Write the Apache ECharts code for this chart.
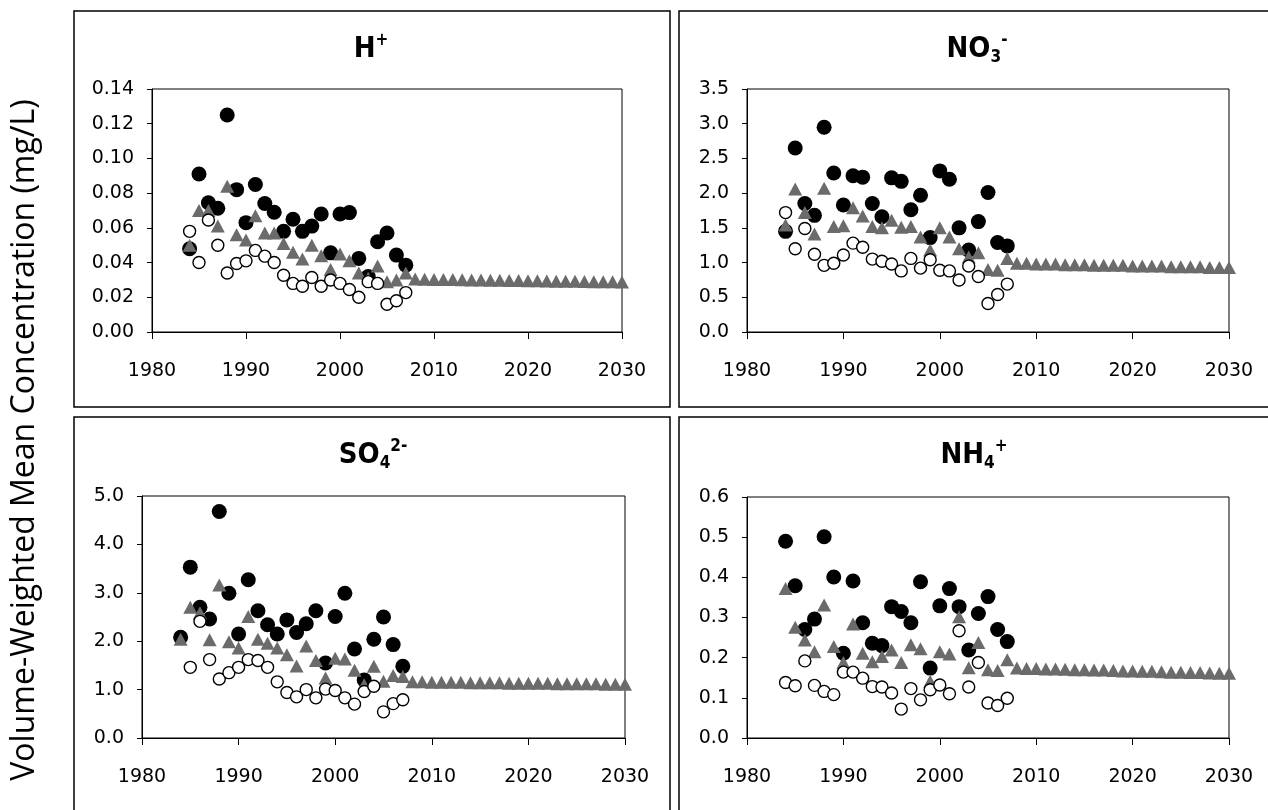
<!DOCTYPE html>
<html>
<head>
<meta charset="utf-8">
<script src="https://cdn.jsdelivr.net/npm/echarts@6/dist/echarts.min.js"></script>
<style>
  html, body { margin: 0; padding: 0; background: #fff; }
  #chart { width: 1268px; height: 810px; }
</style>
</head>
<body>
<div id="chart"></div>
<script>
// years of measurements and of the projection
const obsYears = [1984, 1985, 1986, 1987, 1988, 1989, 1990, 1991, 1992, 1993, 1994, 1995,
  1996, 1997, 1998, 1999, 2000, 2001, 2002, 2003, 2004, 2005, 2006, 2007];
const projYears = [2008, 2009, 2010, 2011, 2012, 2013, 2014, 2015, 2016, 2017, 2018, 2019,
  2020, 2021, 2022, 2023, 2024, 2025, 2026, 2027, 2028, 2029, 2030];

// H+
const hBlack = [0.048, 0.091, 0.0745, 0.0713, 0.125, 0.082, 0.063, 0.085, 0.074, 0.069, 0.058, 0.065,
  0.058, 0.061, 0.068, 0.0456, 0.068, 0.0688, 0.0424, 0.032, 0.052, 0.057, 0.0443, 0.0385];
const hTri = [0.050, 0.070, 0.070, 0.061, 0.084, 0.056, 0.053, 0.067, 0.057, 0.057, 0.051, 0.046,
  0.042, 0.050, 0.044, 0.036, 0.045, 0.041, 0.034, 0.031, 0.038, 0.029, 0.030, 0.034];
const hOpen = [0.058, 0.040, 0.0645, 0.050, 0.034, 0.0395, 0.041, 0.047, 0.0437, 0.040, 0.0327, 0.028,
  0.0264, 0.0314, 0.0264, 0.030, 0.028, 0.0245, 0.020, 0.029, 0.028, 0.016, 0.018, 0.0227];
const hProj = [0.0305, 0.0304, 0.0303, 0.0302, 0.0302, 0.0301, 0.0300, 0.0299, 0.0298, 0.0298, 0.0297, 0.0296,
  0.0295, 0.0295, 0.0294, 0.0293, 0.0292, 0.0292, 0.0291, 0.0290, 0.0289, 0.0289, 0.0288];

// NO3-
const nBlack = [1.45, 2.65, 1.85, 1.68, 2.95, 2.29, 1.83, 2.25, 2.23, 1.85, 1.66, 2.22,
  2.17, 1.76, 1.97, 1.36, 2.32, 2.20, 1.50, 1.18, 1.59, 2.01, 1.29, 1.24];
const nTri = [1.54, 2.06, 1.72, 1.41, 2.07, 1.52, 1.53, 1.79, 1.67, 1.52, 1.50, 1.61,
  1.51, 1.52, 1.37, 1.18, 1.50, 1.37, 1.20, 1.08, 1.14, 0.90, 0.89, 1.06];
const nOpen = [1.72, 1.20, 1.49, 1.12, 0.96, 0.99, 1.11, 1.28, 1.22, 1.05, 1.02, 0.98,
  0.88, 1.06, 0.92, 1.04, 0.89, 0.88, 0.75, 0.95, 0.80, 0.41, 0.54, 0.69];
const nProj = [0.99, 0.99, 0.98, 0.98, 0.98, 0.97, 0.97, 0.97, 0.96, 0.96, 0.96, 0.96,
  0.95, 0.95, 0.95, 0.95, 0.94, 0.94, 0.94, 0.94, 0.93, 0.93, 0.93];

// SO4 2-
const sBlack = [2.08, 3.53, 2.70, 2.46, 4.68, 2.99, 2.15, 3.27, 2.63, 2.34, 2.15, 2.44,
  2.18, 2.36, 2.63, 1.55, 2.51, 2.99, 1.84, 1.20, 2.04, 2.50, 1.93, 1.48];
const sTri = [2.04, 2.70, 2.59, 2.03, 3.16, 1.99, 1.86, 2.51, 2.04, 1.96, 1.86, 1.72,
  1.49, 1.90, 1.60, 1.24, 1.65, 1.63, 1.40, 1.10, 1.48, 1.17, 1.29, 1.27];
const sOpen = [null, 1.46, 2.41, 1.62, 1.22, 1.35, 1.46, 1.62, 1.60, 1.46, 1.16, 0.94,
  0.85, 1.00, 0.83, 1.01, 0.98, 0.83, 0.70, 0.96, 1.07, 0.54, 0.71, 0.79];
const sProj = [1.16, 1.16, 1.15, 1.15, 1.15, 1.15, 1.14, 1.14, 1.14, 1.14, 1.13, 1.13,
  1.13, 1.13, 1.13, 1.12, 1.12, 1.12, 1.12, 1.12, 1.11, 1.11, 1.11];

// NH4+
const aBlack = [0.490, 0.379, 0.270, 0.296, 0.501, 0.401, 0.211, 0.391, 0.287, 0.236, 0.230, 0.327,
  0.315, 0.287, 0.389, 0.174, 0.329, 0.372, 0.327, 0.219, 0.310, 0.352, 0.270, 0.240];
const aTri = [0.372, 0.276, 0.244, 0.215, 0.331, 0.228, 0.188, 0.284, 0.211, 0.190, 0.203, 0.219,
  0.188, 0.232, 0.222, 0.141, 0.215, 0.209, 0.302, 0.175, 0.238, 0.170, 0.168, 0.195];
const aOpen = [0.138, 0.130, 0.192, 0.131, 0.116, 0.108, 0.164, 0.164, 0.149, 0.128, 0.127, 0.112,
  0.072, 0.123, 0.095, 0.120, 0.132, 0.110, 0.267, 0.127, 0.188, 0.087, 0.081, 0.099];
const aProj = [0.174, 0.173, 0.173, 0.172, 0.172, 0.171, 0.170, 0.170, 0.169, 0.169, 0.168, 0.167,
  0.167, 0.166, 0.166, 0.165, 0.164, 0.164, 0.163, 0.163, 0.162, 0.161, 0.161];

const yearTicks = [1980, 1990, 2000, 2010, 2020, 2030];

const panels = [
  { title: '{b|H}{sup|+}', black: hBlack, tri: hTri, open: hOpen, proj: hProj, max: 0.14, step: 0.02, dec: 2,
    grid: { left: 152, top: 89, width: 470, height: 243 }, tx: 371, ty: 32 },
  { title: '{b|NO}{sub|3}{sup|-}', black: nBlack, tri: nTri, open: nOpen, proj: nProj, max: 3.5, step: 0.5, dec: 1,
    grid: { left: 747, top: 89, width: 482, height: 243 }, tx: 977, ty: 32 },
  { title: '{b|SO}{sub|4}{sup|2-}', black: sBlack, tri: sTri, open: sOpen, proj: sProj, max: 5, step: 1, dec: 1,
    grid: { left: 142, top: 496, width: 483, height: 242 }, tx: 373, ty: 438 },
  { title: '{b|NH}{sub|4}{sup|+}', black: aBlack, tri: aTri, open: aOpen, proj: aProj, max: 0.6, step: 0.1, dec: 1,
    grid: { left: 747, top: 497, width: 482, height: 241 }, tx: 974, ty: 438 }
];

const tickFont = { color: '#000', fontFamily: 'DejaVu Sans', fontSize: 19 };
const titleFamily = "'Liberation Sans Narrow', 'DejaVu Sans Condensed', Lato, sans-serif";
const titleRich = {
  b: { fontFamily: titleFamily, fontWeight: 'bold', fontSize: 29, lineHeight: 34, color: '#000' },
  sup: { fontFamily: titleFamily, fontWeight: 'bold', fontSize: 17, lineHeight: 17, verticalAlign: 'top', color: '#000' },
  sub: { fontFamily: titleFamily, fontWeight: 'bold', fontSize: 17, lineHeight: 17, verticalAlign: 'bottom', color: '#000' }
};

// missing values are left out
const pairs = (xs, ys) => xs.map((x, i) => [x, ys[i]]).filter(d => d[1] != null);

const option = {
  animation: false,
  backgroundColor: '#fff',
  title: [],
  grid: [],
  xAxis: [],
  yAxis: [],
  series: [],
  graphic: [
    { type: 'rect', shape: { x: 74, y: 11, width: 596, height: 396 }, style: { fill: 'none', stroke: '#000', lineWidth: 1.5 } },
    { type: 'rect', shape: { x: 679, y: 11, width: 600, height: 396 }, style: { fill: 'none', stroke: '#000', lineWidth: 1.5 } },
    { type: 'rect', shape: { x: 74, y: 417, width: 596, height: 400 }, style: { fill: 'none', stroke: '#000', lineWidth: 1.5 } },
    { type: 'rect', shape: { x: 679, y: 417, width: 600, height: 400 }, style: { fill: 'none', stroke: '#000', lineWidth: 1.5 } },
    {
      type: 'text', x: 25, y: 440, rotation: Math.PI / 2,
      style: {
        text: 'Volume-Weighted Mean Concentration (mg/L)',
        fontFamily: 'Open Sans', fontSize: 32, fill: '#000',
        align: 'center', verticalAlign: 'middle'
      }
    }
  ]
};

panels.forEach((p, i) => {
  option.title.push({
    text: p.title, left: p.tx, top: p.ty, textAlign: 'center', padding: 0,
    textStyle: { rich: titleRich }
  });
  option.grid.push(Object.assign({ show: true, borderColor: '#000', borderWidth: 1, backgroundColor: 'transparent' }, p.grid));
  option.xAxis.push({
    type: 'value', gridIndex: i, min: 1980, max: 2030, interval: 10,
    axisLine: { show: true, lineStyle: { color: '#000', width: 1 } },
    axisTick: { show: true, length: 7, lineStyle: { color: '#000' } },
    axisLabel: Object.assign({ margin: 30, formatter: v => yearTicks.includes(v) ? String(v) : '' }, tickFont),
    splitLine: { show: false }
  });
  option.yAxis.push({
    type: 'value', gridIndex: i, min: 0, max: p.max, interval: p.step,
    axisLine: { show: true, lineStyle: { color: '#000', width: 1 } },
    axisTick: { show: true, length: 5, lineStyle: { color: '#000' } },
    axisLabel: Object.assign({ margin: 18, formatter: v => v.toFixed(p.dec) }, tickFont),
    splitLine: { show: false }
  });
  option.series.push({
    type: 'scatter', xAxisIndex: i, yAxisIndex: i, symbol: 'circle', symbolSize: 15,
    itemStyle: { color: '#000', opacity: 1 }, data: pairs(obsYears, p.black), z: 2
  });
  option.series.push({
    type: 'scatter', xAxisIndex: i, yAxisIndex: i, symbol: 'triangle', symbolSize: [14, 13],
    itemStyle: { color: '#6b6b6b', opacity: 1 },
    data: pairs(obsYears, p.tri).concat(pairs(projYears, p.proj)), z: 3
  });
  option.series.push({
    type: 'scatter', xAxisIndex: i, yAxisIndex: i, symbol: 'circle', symbolSize: 12,
    itemStyle: { color: '#fff', borderColor: '#000', borderWidth: 1.4, opacity: 1 },
    data: pairs(obsYears, p.open), z: 4
  });
});

const chart = echarts.init(document.getElementById('chart'));
chart.setOption(option);
window.addEventListener('resize', () => chart.resize());
</script>
</body>
</html>
